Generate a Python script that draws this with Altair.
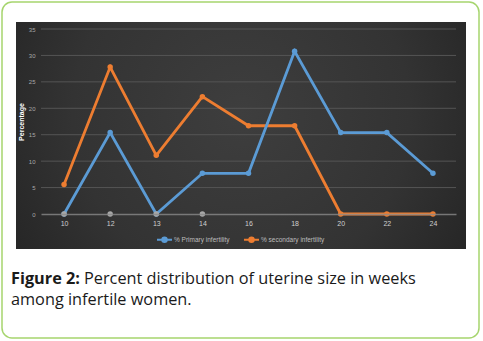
import altair as alt
import pandas as pd

weeks = ["10", "12", "13", "14", "16", "18", "20", "22", "24"]
primary = [0, 15.4, 0, 7.7, 7.7, 30.8, 15.4, 15.4, 7.7]
secondary = [5.6, 27.8, 11.1, 22.2, 16.7, 16.7, 0, 0, 0]
zero_marker_weeks = ["10", "12", "13", "14"]
series_names = ["% Primary infertility", "% secondary infertility"]
series_colors = ["#5b9bd5", "#ed7d31"]
y_ticks = [0, 5, 10, 15, 20, 25, 30, 35]
caption_bold = "Figure 2:"
caption_rest = "Percent distribution of uterine size in weeks"
caption_line2 = "among infertile women."

rows = []
for w, v in zip(weeks, secondary):
    rows.append({"week": w, "value": v, "series": series_names[1], "order": 0})
for w, v in zip(weeks, primary):
    rows.append({"week": w, "value": v, "series": series_names[0], "order": 1})
df = pd.DataFrame(rows)
zdf = pd.DataFrame({"week": zero_marker_weeks, "value": [0] * len(zero_marker_weeks)})
gdf = pd.DataFrame({"value": y_ticks[1:]})
one = pd.DataFrame({"k": [0]})

# plot area: x 41..456, y 29..214 in page pixels
L, T = 41, 29

x_enc = alt.X("week:N", sort=weeks, scale=alt.Scale(type="point", domain=weeks, padding=0.5),
              axis=alt.Axis(title=None, labelAngle=0, ticks=False, domainColor="#8a8a8a",
                            domainWidth=1.5, domainOpacity=0.8, labelColor="#cfcfcf", labelFontSize=7,
                            labelPadding=5, grid=False, labelFont="Liberation Sans", zindex=1))
y_scale = alt.Scale(domain=[0, 35], nice=False)
y_axis = alt.Axis(title="Percentage", values=y_ticks, grid=False,
                  domain=False, ticks=False, labelColor="#a8a8a8",
                  labelFontSize=6, labelPadding=6, titleColor="#ffffff",
                  labelOverlap=False, labelBound=False,
                  titleFontSize=7, titleFontWeight="bold", titlePadding=4,
                  labelFont="Liberation Sans", titleFont="Liberation Sans", zindex=1)
y_enc = alt.Y("value:Q", scale=y_scale, axis=y_axis)

border = alt.Chart(one).mark_rect(fill="white", stroke="#a6d56e", strokeWidth=1.5,
                                  cornerRadius=10).encode(
    x=alt.value(2 - L), x2=alt.value(479 - L), y=alt.value(2 - T), y2=alt.value(338 - T))

panel = alt.Chart(one).mark_rect(
    color=alt.RadialGradient(gradient="radial", x1=0.5, y1=0.45, x2=0.5, y2=0.45, r1=0, r2=0.75,
                             stops=[alt.GradientStop(color="#3e3e3e", offset=0),
                                    alt.GradientStop(color="#333333", offset=0.5),
                                    alt.GradientStop(color="#1c1c1c", offset=1)])
).encode(x=alt.value(16 - L), x2=alt.value(466 - L), y=alt.value(22 - T), y2=alt.value(249 - T))

grid = alt.Chart(gdf).mark_rule(color="#555555", strokeWidth=1).encode(
    y=y_enc, x=alt.value(0), x2=alt.value(456 - L))

color = alt.Color("series:N", scale=alt.Scale(domain=series_names, range=series_colors),
                  legend=alt.Legend(title=None, orient="none", legendX=158 - L - 2, legendY=231 - T,
                                    direction="horizontal", labelColor="#bdbdbd", labelFontSize=6.5,
                                    labelFont="Liberation Sans",
                                    symbolType="M-1,0H1M-0.3,0A0.3,0.3,0,1,0,0.3,0A0.3,0.3,0,1,0,-0.3,0",
                                    symbolSize=225, symbolStrokeWidth=2, symbolFillColor="transparent",
                                    columnPadding=10, labelOffset=1))

lines = alt.Chart(df).mark_line(strokeWidth=2.8, point=alt.OverlayMarkDef(size=30, filled=True)).encode(
    x=x_enc, y=y_enc, color=color, order=alt.Order("order:Q"),
    detail="series:N")

zeros = alt.Chart(zdf).mark_point(filled=True, size=30, color="#a8a8a8", opacity=1).encode(
    x=x_enc, y=y_enc)

fs = 16.3
cap1 = alt.Chart(one).mark_text(text=caption_bold, font="Open Sans", fontWeight="bold", fontSize=fs,
                                align="left", baseline="alphabetic", color="#1a1a1a").encode(
    x=alt.value(11 - L), y=alt.value(284 - T))
cap2 = alt.Chart(one).mark_text(text=caption_rest, font="Open Sans", fontSize=fs,
                                align="left", baseline="alphabetic", color="#1a1a1a").encode(
    x=alt.value(84 - L), y=alt.value(284 - T))
cap3 = alt.Chart(one).mark_text(text=caption_line2, font="Open Sans", fontSize=fs,
                                align="left", baseline="alphabetic", color="#1a1a1a").encode(
    x=alt.value(11 - L), y=alt.value(305 - T))

chart = alt.layer(border, panel, grid, lines, zeros, cap1, cap2, cap3).properties(
    width=456 - L, height=214 - T,
    autosize=alt.AutoSizeParams(type="none"),
    padding={"left": L, "top": T, "right": 483 - 456, "bottom": 341 - 214},
    background="white",
).configure_view(stroke=None)

chart.save("out.html", embed_options={"renderer": "svg", "actions": False})
